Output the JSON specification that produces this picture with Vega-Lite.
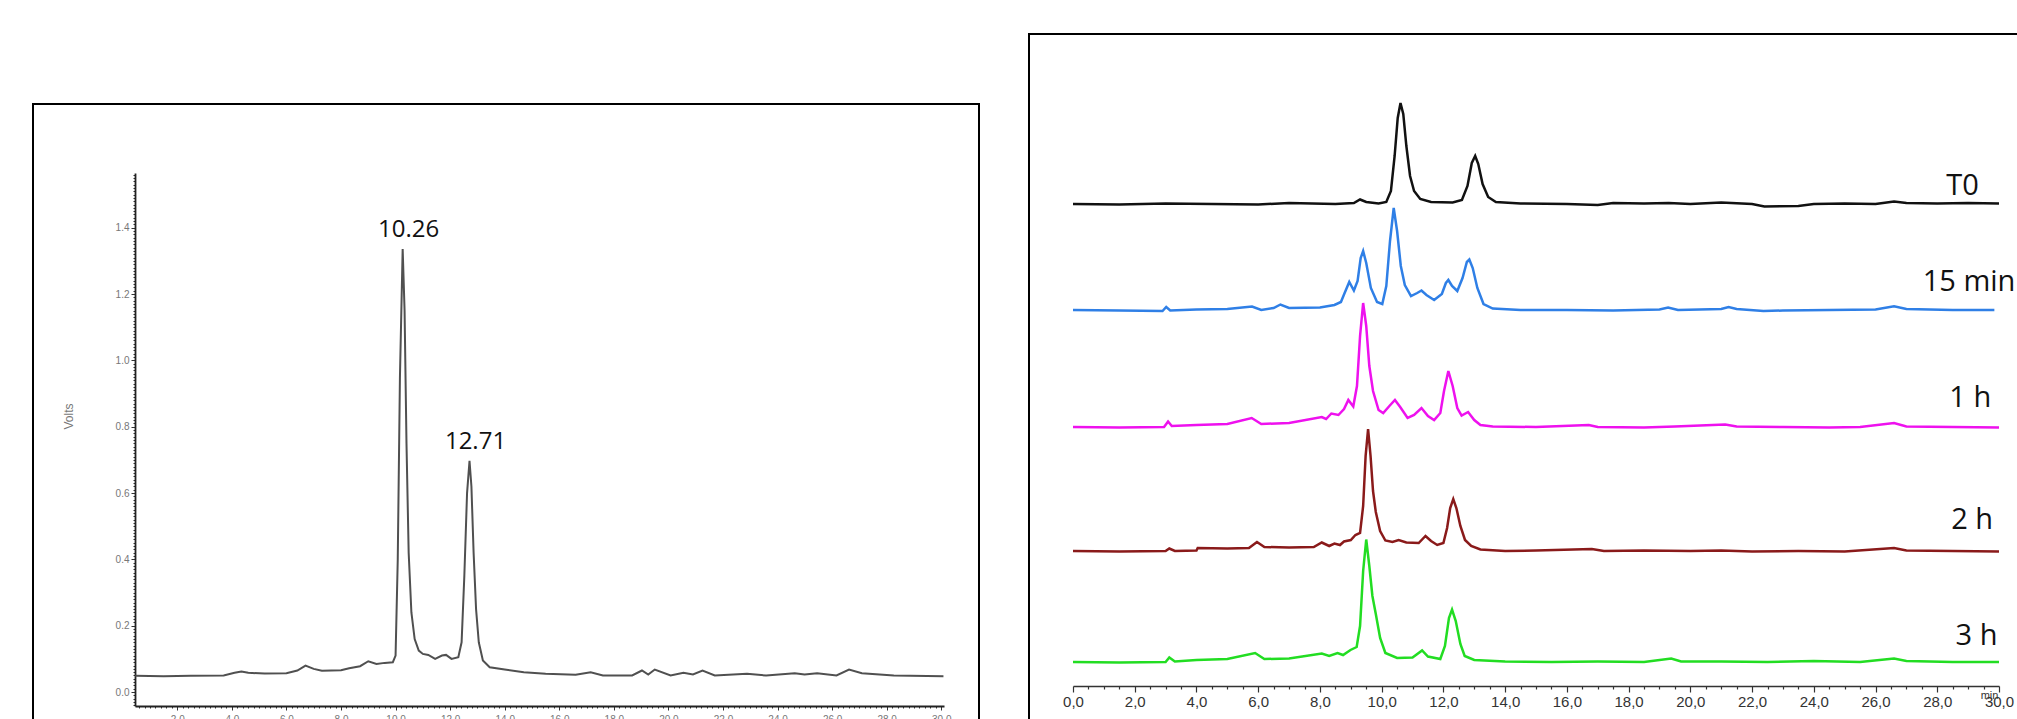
{
"$schema": "https://vega.github.io/schema/vega-lite/v6.json",
"background": "white",
"padding": {"left": 32, "top": 33, "right": 0, "bottom": 0},
"spacing": 48,
"config": {"view": {"stroke": "#000", "strokeWidth": 2}, "axis": {"grid": false}},
"datasets": {
"left": [
{"t":0.46,"v":0.049},{"t":1.5,"v":0.048},{"t":2.5,"v":0.049},{"t":3.7,"v":0.05},{"t":4.1,"v":0.058},{"t":4.35,"v":0.062},{"t":4.6,"v":0.058},{"t":5.2,"v":0.056},{"t":6.0,"v":0.057},{"t":6.4,"v":0.065},{"t":6.7,"v":0.08},{"t":7.0,"v":0.07},{"t":7.3,"v":0.064},{"t":8.0,"v":0.066},{"t":8.3,"v":0.072},{"t":8.7,"v":0.078},{"t":9.0,"v":0.093},{"t":9.3,"v":0.085},{"t":9.6,"v":0.088},{"t":9.9,"v":0.09},{"t":10.0,"v":0.11},{"t":10.08,"v":0.4},{"t":10.16,"v":0.95},{"t":10.26,"v":1.336},{"t":10.33,"v":1.15},{"t":10.4,"v":0.75},{"t":10.48,"v":0.42},{"t":10.58,"v":0.24},{"t":10.7,"v":0.16},{"t":10.85,"v":0.125},{"t":11.0,"v":0.115},{"t":11.2,"v":0.112},{"t":11.45,"v":0.1},{"t":11.7,"v":0.11},{"t":11.85,"v":0.112},{"t":12.05,"v":0.1},{"t":12.3,"v":0.105},{"t":12.42,"v":0.15},{"t":12.52,"v":0.35},{"t":12.62,"v":0.6},{"t":12.71,"v":0.697},{"t":12.78,"v":0.62},{"t":12.86,"v":0.42},{"t":12.95,"v":0.25},{"t":13.05,"v":0.15},{"t":13.2,"v":0.095},{"t":13.45,"v":0.075},{"t":14.0,"v":0.068},{"t":14.7,"v":0.06},{"t":15.5,"v":0.055},{"t":16.6,"v":0.052},{"t":17.15,"v":0.06},{"t":17.6,"v":0.05},{"t":18.67,"v":0.05},{"t":19.03,"v":0.065},{"t":19.26,"v":0.053},{"t":19.5,"v":0.068},{"t":20.08,"v":0.05},{"t":20.55,"v":0.058},{"t":20.9,"v":0.053},{"t":21.25,"v":0.065},{"t":21.7,"v":0.05},{"t":22.88,"v":0.055},{"t":23.58,"v":0.05},{"t":24.63,"v":0.057},{"t":24.99,"v":0.053},{"t":25.45,"v":0.057},{"t":26.16,"v":0.05},{"t":26.62,"v":0.068},{"t":27.09,"v":0.057},{"t":28.26,"v":0.05},{"t":30.08,"v":0.048}
],
"llabels": [
{"label":"10.26","t":10.26,"v":1.336},{"label":"12.71","t":12.71,"v":0.697}
],
"right": [
{"s":"T0","t":0,"v":48.2},{"s":"T0","t":1.5,"v":48.15},{"s":"T0","t":3.0,"v":48.25},{"s":"T0","t":4.5,"v":48.2},{"s":"T0","t":6.0,"v":48.15},{"s":"T0","t":7.0,"v":48.3},{"s":"T0","t":8.5,"v":48.2},{"s":"T0","t":9.1,"v":48.3},{"s":"T0","t":9.3,"v":48.65},{"s":"T0","t":9.5,"v":48.4},{"s":"T0","t":9.9,"v":48.25},{"s":"T0","t":10.15,"v":48.4},{"s":"T0","t":10.3,"v":49.5},{"s":"T0","t":10.42,"v":53},{"s":"T0","t":10.52,"v":56.8},{"s":"T0","t":10.61,"v":58.3},{"s":"T0","t":10.7,"v":57.2},{"s":"T0","t":10.8,"v":54},{"s":"T0","t":10.92,"v":51},{"s":"T0","t":11.05,"v":49.5},{"s":"T0","t":11.25,"v":48.7},{"s":"T0","t":11.6,"v":48.4},{"s":"T0","t":12.3,"v":48.35},{"s":"T0","t":12.6,"v":48.6},{"s":"T0","t":12.78,"v":50},{"s":"T0","t":12.92,"v":52.3},{"s":"T0","t":13.03,"v":53.0},{"s":"T0","t":13.13,"v":52.2},{"s":"T0","t":13.27,"v":50.2},{"s":"T0","t":13.45,"v":48.9},{"s":"T0","t":13.7,"v":48.4},{"s":"T0","t":14.5,"v":48.25},{"s":"T0","t":16.0,"v":48.2},{"s":"T0","t":17.0,"v":48.1},{"s":"T0","t":17.5,"v":48.3},{"s":"T0","t":18.5,"v":48.25},{"s":"T0","t":19.3,"v":48.3},{"s":"T0","t":20.0,"v":48.2},{"s":"T0","t":21.0,"v":48.35},{"s":"T0","t":22.0,"v":48.2},{"s":"T0","t":22.4,"v":47.95},{"s":"T0","t":23.5,"v":48.0},{"s":"T0","t":24.0,"v":48.2},{"s":"T0","t":25.0,"v":48.25},{"s":"T0","t":26.0,"v":48.2},{"s":"T0","t":26.6,"v":48.45},{"s":"T0","t":27.0,"v":48.3},{"s":"T0","t":28.0,"v":48.25},{"s":"T0","t":29.0,"v":48.3},{"s":"T0","t":30,"v":48.25},
{"s":"15 min","t":0,"v":37.6},{"s":"15 min","t":1.5,"v":37.55},{"s":"15 min","t":2.9,"v":37.5},{"s":"15 min","t":3.02,"v":37.9},{"s":"15 min","t":3.15,"v":37.55},{"s":"15 min","t":4.0,"v":37.65},{"s":"15 min","t":5.0,"v":37.7},{"s":"15 min","t":5.8,"v":37.95},{"s":"15 min","t":6.1,"v":37.6},{"s":"15 min","t":6.5,"v":37.8},{"s":"15 min","t":6.72,"v":38.15},{"s":"15 min","t":7.0,"v":37.8},{"s":"15 min","t":8.0,"v":37.85},{"s":"15 min","t":8.47,"v":38.1},{"s":"15 min","t":8.68,"v":38.4},{"s":"15 min","t":8.8,"v":39.3},{"s":"15 min","t":8.95,"v":40.4},{"s":"15 min","t":9.1,"v":39.55},{"s":"15 min","t":9.22,"v":40.5},{"s":"15 min","t":9.32,"v":42.8},{"s":"15 min","t":9.4,"v":43.5},{"s":"15 min","t":9.5,"v":42.3},{"s":"15 min","t":9.65,"v":39.8},{"s":"15 min","t":9.85,"v":38.4},{"s":"15 min","t":10.02,"v":38.2},{"s":"15 min","t":10.15,"v":40},{"s":"15 min","t":10.27,"v":44.5},{"s":"15 min","t":10.39,"v":47.8},{"s":"15 min","t":10.5,"v":45.5},{"s":"15 min","t":10.62,"v":42},{"s":"15 min","t":10.75,"v":40.1},{"s":"15 min","t":10.95,"v":39.0},{"s":"15 min","t":11.15,"v":39.3},{"s":"15 min","t":11.29,"v":39.55},{"s":"15 min","t":11.45,"v":39.1},{"s":"15 min","t":11.7,"v":38.6},{"s":"15 min","t":11.95,"v":39.2},{"s":"15 min","t":12.08,"v":40.3},{"s":"15 min","t":12.16,"v":40.6},{"s":"15 min","t":12.28,"v":40.0},{"s":"15 min","t":12.45,"v":39.5},{"s":"15 min","t":12.62,"v":40.8},{"s":"15 min","t":12.76,"v":42.4},{"s":"15 min","t":12.84,"v":42.65},{"s":"15 min","t":12.95,"v":41.8},{"s":"15 min","t":13.1,"v":39.8},{"s":"15 min","t":13.3,"v":38.2},{"s":"15 min","t":13.6,"v":37.75},{"s":"15 min","t":14.5,"v":37.6},{"s":"15 min","t":16,"v":37.6},{"s":"15 min","t":17.5,"v":37.55},{"s":"15 min","t":19.0,"v":37.65},{"s":"15 min","t":19.28,"v":37.85},{"s":"15 min","t":19.6,"v":37.6},{"s":"15 min","t":21.0,"v":37.7},{"s":"15 min","t":21.24,"v":37.9},{"s":"15 min","t":21.5,"v":37.7},{"s":"15 min","t":22.37,"v":37.5},{"s":"15 min","t":23,"v":37.55},{"s":"15 min","t":24.5,"v":37.6},{"s":"15 min","t":26.0,"v":37.65},{"s":"15 min","t":26.6,"v":37.98},{"s":"15 min","t":27.0,"v":37.7},{"s":"15 min","t":28.5,"v":37.6},{"s":"15 min","t":29.85,"v":37.6},
{"s":"1 h","t":0,"v":25.9},{"s":"1 h","t":1.5,"v":25.85},{"s":"1 h","t":2.95,"v":25.9},{"s":"1 h","t":3.08,"v":26.45},{"s":"1 h","t":3.2,"v":26.0},{"s":"1 h","t":4.0,"v":26.1},{"s":"1 h","t":5.0,"v":26.2},{"s":"1 h","t":5.79,"v":26.8},{"s":"1 h","t":6.1,"v":26.2},{"s":"1 h","t":7.0,"v":26.3},{"s":"1 h","t":8.06,"v":26.9},{"s":"1 h","t":8.2,"v":26.7},{"s":"1 h","t":8.37,"v":27.25},{"s":"1 h","t":8.6,"v":27.1},{"s":"1 h","t":8.78,"v":27.7},{"s":"1 h","t":8.92,"v":28.6},{"s":"1 h","t":9.08,"v":27.95},{"s":"1 h","t":9.2,"v":30},{"s":"1 h","t":9.3,"v":35},{"s":"1 h","t":9.4,"v":38.3},{"s":"1 h","t":9.5,"v":36},{"s":"1 h","t":9.6,"v":32},{"s":"1 h","t":9.72,"v":29.5},{"s":"1 h","t":9.9,"v":27.6},{"s":"1 h","t":10.05,"v":27.3},{"s":"1 h","t":10.25,"v":28.0},{"s":"1 h","t":10.43,"v":28.6},{"s":"1 h","t":10.6,"v":27.9},{"s":"1 h","t":10.84,"v":26.8},{"s":"1 h","t":11.05,"v":27.1},{"s":"1 h","t":11.29,"v":27.8},{"s":"1 h","t":11.5,"v":27.0},{"s":"1 h","t":11.7,"v":26.6},{"s":"1 h","t":11.9,"v":27.3},{"s":"1 h","t":12.02,"v":29.5},{"s":"1 h","t":12.16,"v":31.5},{"s":"1 h","t":12.3,"v":30.0},{"s":"1 h","t":12.45,"v":27.8},{"s":"1 h","t":12.59,"v":27.05},{"s":"1 h","t":12.8,"v":27.4},{"s":"1 h","t":13.0,"v":26.6},{"s":"1 h","t":13.2,"v":26.1},{"s":"1 h","t":13.6,"v":25.95},{"s":"1 h","t":15.0,"v":25.9},{"s":"1 h","t":16.71,"v":26.1},{"s":"1 h","t":17.0,"v":25.9},{"s":"1 h","t":18.5,"v":25.85},{"s":"1 h","t":19.5,"v":25.95},{"s":"1 h","t":21.13,"v":26.15},{"s":"1 h","t":21.5,"v":25.95},{"s":"1 h","t":23.0,"v":25.9},{"s":"1 h","t":24.5,"v":25.85},{"s":"1 h","t":25.5,"v":25.9},{"s":"1 h","t":26.6,"v":26.3},{"s":"1 h","t":27.0,"v":25.95},{"s":"1 h","t":28.5,"v":25.9},{"s":"1 h","t":30,"v":25.85},
{"s":"2 h","t":0,"v":13.5},{"s":"2 h","t":1.5,"v":13.45},{"s":"2 h","t":3.0,"v":13.5},{"s":"2 h","t":3.12,"v":13.75},{"s":"2 h","t":3.3,"v":13.5},{"s":"2 h","t":4.0,"v":13.55},{"s":"2 h","t":4.04,"v":13.8},{"s":"2 h","t":5.0,"v":13.75},{"s":"2 h","t":5.7,"v":13.8},{"s":"2 h","t":5.96,"v":14.4},{"s":"2 h","t":6.2,"v":13.9},{"s":"2 h","t":7.0,"v":13.85},{"s":"2 h","t":7.8,"v":13.9},{"s":"2 h","t":8.06,"v":14.35},{"s":"2 h","t":8.3,"v":14.0},{"s":"2 h","t":8.47,"v":14.25},{"s":"2 h","t":8.65,"v":14.1},{"s":"2 h","t":8.78,"v":14.45},{"s":"2 h","t":9.0,"v":14.6},{"s":"2 h","t":9.15,"v":15.1},{"s":"2 h","t":9.3,"v":15.3},{"s":"2 h","t":9.4,"v":18},{"s":"2 h","t":9.48,"v":23},{"s":"2 h","t":9.56,"v":25.7},{"s":"2 h","t":9.64,"v":23},{"s":"2 h","t":9.72,"v":19.5},{"s":"2 h","t":9.81,"v":17.4},{"s":"2 h","t":9.95,"v":15.5},{"s":"2 h","t":10.12,"v":14.55},{"s":"2 h","t":10.35,"v":14.4},{"s":"2 h","t":10.55,"v":14.6},{"s":"2 h","t":10.8,"v":14.35},{"s":"2 h","t":11.2,"v":14.3},{"s":"2 h","t":11.42,"v":15.0},{"s":"2 h","t":11.6,"v":14.5},{"s":"2 h","t":11.8,"v":14.1},{"s":"2 h","t":12.0,"v":14.3},{"s":"2 h","t":12.12,"v":15.8},{"s":"2 h","t":12.22,"v":17.8},{"s":"2 h","t":12.32,"v":18.7},{"s":"2 h","t":12.42,"v":17.8},{"s":"2 h","t":12.55,"v":16},{"s":"2 h","t":12.7,"v":14.6},{"s":"2 h","t":12.9,"v":14.0},{"s":"2 h","t":13.2,"v":13.65},{"s":"2 h","t":14,"v":13.5},{"s":"2 h","t":15,"v":13.55},{"s":"2 h","t":16.81,"v":13.7},{"s":"2 h","t":17.2,"v":13.5},{"s":"2 h","t":18.5,"v":13.55},{"s":"2 h","t":20,"v":13.5},{"s":"2 h","t":21,"v":13.55},{"s":"2 h","t":22,"v":13.45},{"s":"2 h","t":23.5,"v":13.5},{"s":"2 h","t":25,"v":13.45},{"s":"2 h","t":26.6,"v":13.8},{"s":"2 h","t":27,"v":13.55},{"s":"2 h","t":28.5,"v":13.5},{"s":"2 h","t":30,"v":13.45},
{"s":"3 h","t":0,"v":2.4},{"s":"3 h","t":1.5,"v":2.35},{"s":"3 h","t":3.0,"v":2.4},{"s":"3 h","t":3.12,"v":2.85},{"s":"3 h","t":3.3,"v":2.45},{"s":"3 h","t":4.0,"v":2.6},{"s":"3 h","t":5.0,"v":2.7},{"s":"3 h","t":5.9,"v":3.3},{"s":"3 h","t":6.2,"v":2.7},{"s":"3 h","t":7.0,"v":2.75},{"s":"3 h","t":8.06,"v":3.25},{"s":"3 h","t":8.3,"v":3.0},{"s":"3 h","t":8.57,"v":3.3},{"s":"3 h","t":8.75,"v":3.1},{"s":"3 h","t":8.99,"v":3.6},{"s":"3 h","t":9.19,"v":3.9},{"s":"3 h","t":9.3,"v":6},{"s":"3 h","t":9.4,"v":11.5},{"s":"3 h","t":9.5,"v":14.65},{"s":"3 h","t":9.6,"v":12},{"s":"3 h","t":9.7,"v":9},{"s":"3 h","t":9.81,"v":7.2},{"s":"3 h","t":9.95,"v":4.8},{"s":"3 h","t":10.12,"v":3.3},{"s":"3 h","t":10.5,"v":2.8},{"s":"3 h","t":11.0,"v":2.85},{"s":"3 h","t":11.31,"v":3.55},{"s":"3 h","t":11.5,"v":2.95},{"s":"3 h","t":11.9,"v":2.7},{"s":"3 h","t":12.05,"v":4},{"s":"3 h","t":12.18,"v":6.8},{"s":"3 h","t":12.28,"v":7.65},{"s":"3 h","t":12.4,"v":6.5},{"s":"3 h","t":12.55,"v":4.2},{"s":"3 h","t":12.69,"v":3.0},{"s":"3 h","t":13.0,"v":2.6},{"s":"3 h","t":14,"v":2.45},{"s":"3 h","t":15.5,"v":2.4},{"s":"3 h","t":17,"v":2.45},{"s":"3 h","t":18.5,"v":2.4},{"s":"3 h","t":19.38,"v":2.75},{"s":"3 h","t":19.7,"v":2.45},{"s":"3 h","t":21,"v":2.45},{"s":"3 h","t":22.5,"v":2.4},{"s":"3 h","t":24,"v":2.5},{"s":"3 h","t":25.5,"v":2.4},{"s":"3 h","t":26.6,"v":2.75},{"s":"3 h","t":27,"v":2.5},{"s":"3 h","t":28.5,"v":2.4},{"s":"3 h","t":30,"v":2.4}
],
"rlabels": [
{"label":"T0","t":28.82,"v":49.1},{"label":"15 min","t":29.03,"v":39.5},{"label":"1 h","t":29.07,"v":27.94},{"label":"2 h","t":29.13,"v":15.7},{"label":"3 h","t":29.27,"v":4.1}
]
},
"hconcat": [
{
"spacing": 10,
"vconcat": [
{
"width": 946, "height": 59,
"view": {"stroke": null},
"data": {"values": []},
"mark": {"type": "point", "opacity": 0},
"encoding": {}
},
{
"width": 946, "height": 620,
"layer": [
{"data": {"name": "left"},
 "mark": {"type": "line", "color": "#505050", "strokeWidth": 2},
 "encoding": {
  "x": {"field": "t", "type": "quantitative",
   "scale": {"domain": [0.45, 30.1], "range": [102, 911], "nice": false, "zero": false},
   "axis": {"orient": "bottom", "offset": -18, "title": null, "tickCount": 150,
    "labelExpr": "abs(datum.value/2-round(datum.value/2))<0.01 ? format(datum.value,'.1f') : ''",
    "labelOverlap": false, "labelFlush": false, "labelBound": false,
    "tickSize": {"condition": {"test": "abs(datum.value/2-round(datum.value/2))<0.01", "value": 4}, "value": 2},
    "labelFontSize": 10, "labelColor": "#777777", "labelFont": "Liberation Sans", "labelPadding": 4,
    "domainColor": "#222222", "domainWidth": 1.8, "tickColor": "#333333"}},
  "y": {"field": "v", "type": "quantitative",
   "scale": {"domain": [-0.042, 1.565], "range": [602, 69], "nice": false, "zero": false},
   "axis": {"orient": "left", "offset": -102, "title": "Volts", "titleX": -67, "titleY": 312,
    "titleFont": "Liberation Sans", "titleFontSize": 12, "titleFontWeight": "normal", "titleColor": "#777777",
    "titleAlign": "center", "titleBaseline": "middle", "tickCount": 160,
    "labelExpr": "abs(datum.value*5-round(datum.value*5))<0.02 ? format(datum.value,'.1f') : ''",
    "labelOverlap": false, "labelBound": false, "labelFlush": false,
    "tickSize": {"condition": {"test": "abs(datum.value*5-round(datum.value*5))<0.02", "value": 4}, "value": 2},
    "labelFontSize": 10, "labelColor": "#777777", "labelFont": "Liberation Sans", "labelPadding": 2,
    "domainColor": "#222222", "domainWidth": 1.8, "tickColor": "#333333"}}
 }},
{"data": {"name": "llabels"},
 "mark": {"type": "text", "font": "Open Sans", "fontSize": 24, "dx": 6, "dy": -12, "baseline": "alphabetic", "align": "center", "color": "#111111"},
 "encoding": {
  "x": {"field": "t", "type": "quantitative"},
  "y": {"field": "v", "type": "quantitative"},
  "text": {"field": "label"}
 }}
]
}
]
},
{
"width": 990, "height": 690,
"layer": [
{"data": {"name": "right"},
 "mark": {"type": "line", "strokeWidth": 2.5},
 "encoding": {
  "x": {"field": "t", "type": "quantitative",
   "scale": {"domain": [0, 30], "range": [44, 970], "nice": false, "zero": false},
   "axis": {"orient": "bottom", "offset": -38, "title": "min", "titleX": 960, "titleY": 12,
    "titleAlign": "center", "titleBaseline": "alphabetic", "titleFontSize": 11, "titleFontWeight": "normal",
    "titleFont": "Liberation Sans", "titleColor": "#333333", "tickCount": 60,
    "labelExpr": "abs(datum.value/2-round(datum.value/2))<0.01 ? replace(format(datum.value,'.1f'),'.',',') : ''",
    "labelOverlap": false, "labelFlush": false, "labelBound": false,
    "tickSize": {"condition": {"test": "abs(datum.value/2-round(datum.value/2))<0.01", "value": 6}, "value": 3},
    "labelFontSize": 15, "labelFont": "Liberation Sans", "labelColor": "#333333", "labelPadding": 2,
    "domainColor": "#333333", "domainWidth": 1.5, "tickColor": "#333333", "tickWidth": 1.2}},
  "y": {"field": "v", "type": "quantitative",
   "scale": {"domain": [0, 65.2], "range": [652, 0], "nice": false, "zero": false},
   "axis": null},
  "color": {"field": "s", "type": "nominal",
   "scale": {"domain": ["T0", "15 min", "1 h", "2 h", "3 h"], "range": ["#111111", "#2f7fe6", "#ee11ee", "#8a1a1a", "#22dd22"]},
   "legend": null}
 }},
{"data": {"name": "rlabels"},
 "mark": {"type": "text", "font": "Open Sans", "fontSize": 29, "baseline": "alphabetic", "align": "center", "color": "#111111"},
 "encoding": {
  "x": {"field": "t", "type": "quantitative"},
  "y": {"field": "v", "type": "quantitative"},
  "text": {"field": "label"}
 }}
]
}
]
}
